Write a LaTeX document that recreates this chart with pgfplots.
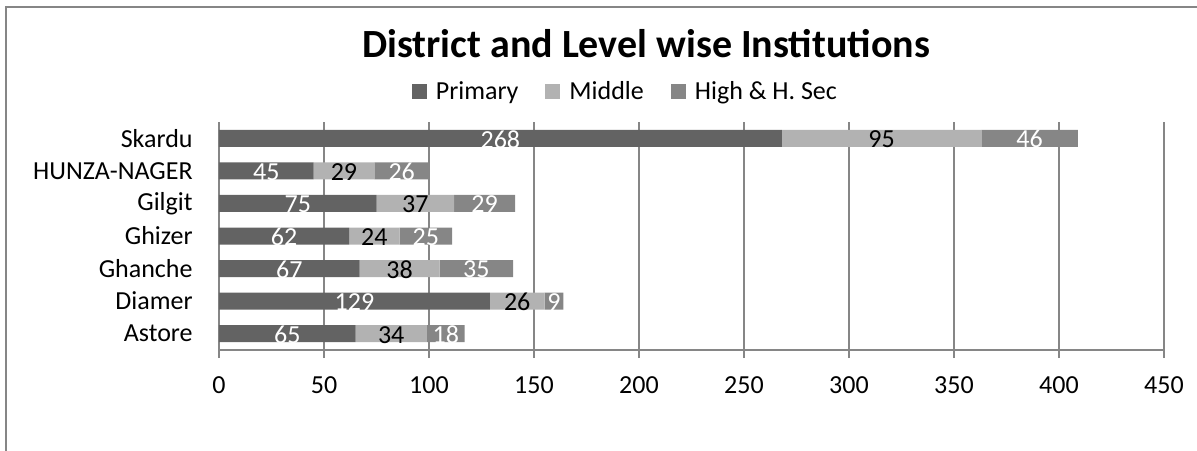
\documentclass[border=0pt]{standalone}
\usepackage{pgfplots}
\pgfplotsset{compat=1.18}
\usepackage{fontspec}
\setmainfont{Carlito}

\definecolor{prim}{RGB}{99,99,99}
\definecolor{midl}{RGB}{178,178,178}
\definecolor{high}{RGB}{134,134,134}
\definecolor{axgray}{RGB}{134,134,134}
\newcommand{\lbl}{\fontsize{13}{15}\selectfont}

\begin{document}
\begin{tikzpicture}
\begin{axis}[
    xbar stacked,
    scale only axis,
    width=472.5pt, height=114pt,
    at={(0,0)}, anchor=south west,
    xmin=0, xmax=450,
    ymin=-0.5, ymax=6.5,
    bar width=8.5pt,
    clip=false,
    xtick={0,50,...,450},
    ytick={0,1,2,3,4,5,6},
    yticklabels={Astore,Diamer,Ghanche,Ghizer,Gilgit,HUNZA-NAGER,Skardu},
    axis x line*=bottom,
    axis y line*=left,
    axis line style={draw=axgray, line width=1pt, -},
    xtick align=outside,
    major tick length=4pt,
    xtick style={draw=axgray, line width=1pt},
    ytick style={draw=none},
    xmajorgrids=true,
    grid style={draw=axgray, line width=1pt},
    ticklabel style={font=\lbl, text=black},
    xticklabel style={inner sep=0pt, yshift=-9.25pt},
    yticklabel style={anchor=east, inner sep=0pt, xshift=-13pt},
    /pgf/number format/assume math mode=true,
    title={District and Level wise Institutions},
    every axis title shift=0pt,
    title style={at={(axis description cs:0.4519,1.346)}, anchor=center,
        font=\bfseries\fontsize{20}{24}\selectfont},
    legend columns=3,
    legend style={at={(axis description cs:0.429,1.132)}, anchor=center,
        draw=none, fill=none, font=\lbl,
        nodes={inner sep=0pt},
        /tikz/every odd column/.append style={column sep=4.5pt},
        /tikz/every even column/.append style={column sep=13.5pt}},
    legend image code/.code={\fill[#1] (0pt,-3.75pt) rectangle (7.5pt,3.75pt);},
    visualization depends on=rawx \as \rawx,
    nodes near coords={\pgfmathprintnumber{\rawx}},
    every node near coord/.append style={font=\lbl, anchor=center, yshift=-0.5pt},
]
\addplot[fill=prim, draw=none, every node near coord/.append style={text=white}] coordinates {
    (65,0) (129,1) (67,2) (62,3) (75,4) (45,5) (268,6)
};
\addplot[fill=midl, draw=none, every node near coord/.append style={text=black}] coordinates {
    (34,0) (26,1) (38,2) (24,3) (37,4) (29,5) (95,6)
};
\addplot[fill=high, draw=none, every node near coord/.append style={text=white}] coordinates {
    (18,0) (9,1) (35,2) (25,3) (29,4) (26,5) (46,6)
};
\legend{Primary, Middle, High \& H. Sec}
\end{axis}
\draw[axgray, line width=1pt] (-106.5pt,-60pt) -- (-106.5pt,171.5pt) -- (500pt,171.5pt);
\pgfresetboundingbox
\path[use as bounding box] (-109.5pt,-50pt) rectangle (489pt,175pt);
\end{tikzpicture}
\end{document}
